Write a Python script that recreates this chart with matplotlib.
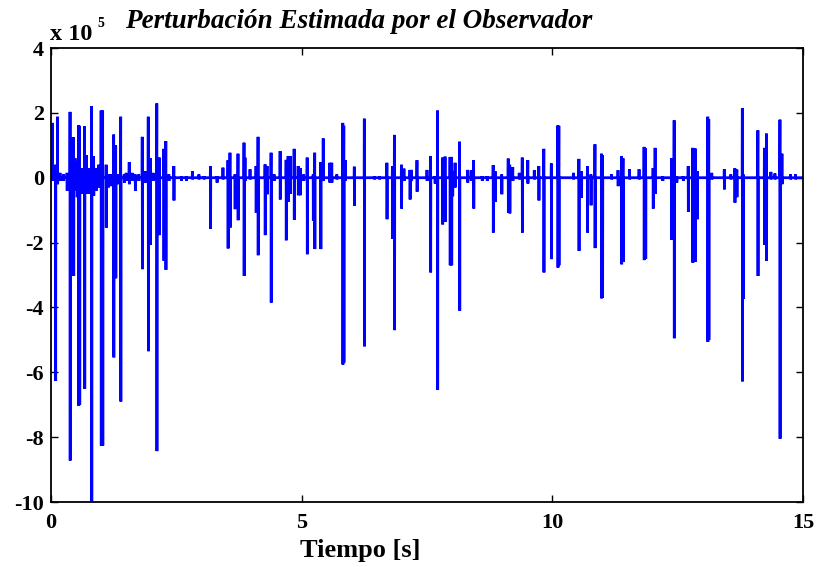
import matplotlib
matplotlib.use('Agg')
import matplotlib.pyplot as plt
import numpy as np

# estimated disturbance events: time [s], positive peak, negative peak (x 1e5)
spike_t = [0.03, 0.09, 0.13, 0.18, 0.25, 0.32, 0.38, 0.42, 0.45, 0.48, 0.52, 0.55, 0.57,
           0.63, 0.67, 0.71, 0.76, 0.81, 0.85, 0.90, 0.95, 1.00, 1.03, 1.10, 1.14, 1.19,
           1.25, 1.29, 1.34, 1.39, 1.46, 1.50, 1.56, 1.62, 1.68, 1.75, 1.82, 1.88, 1.94,
           1.98, 2.04, 2.11, 2.16, 2.25, 2.29, 2.35, 2.45, 2.60, 2.70, 2.82, 2.95, 3.05,
           3.18, 3.31, 3.43, 3.53, 3.57, 3.67, 3.73, 3.85, 3.87, 3.97, 4.09, 4.13, 4.27,
           4.31, 4.39, 4.45, 4.57, 4.69, 4.73, 4.77, 4.85, 4.93, 4.97, 5.04, 5.11, 5.23,
           5.26, 5.38, 5.43, 5.56, 5.60, 5.70, 5.82, 5.84, 5.87, 6.05, 6.25, 6.45, 6.55,
           6.70, 6.81, 6.85, 6.99, 7.04, 7.16, 7.19, 7.30, 7.50, 7.57, 7.66, 7.71, 7.81,
           7.86, 7.96, 7.99, 8.01, 8.06, 8.15, 8.31, 8.38, 8.43, 8.60, 8.70, 8.82, 8.86,
           8.99, 9.12, 9.15, 9.21, 9.34, 9.40, 9.51, 9.64, 9.73, 9.83, 9.98, 10.11, 10.13,
           10.42, 10.53, 10.58, 10.70, 10.77, 10.85, 10.98, 11.00, 11.18, 11.31, 11.38,
           11.41, 11.54, 11.73, 11.83, 11.86, 12.01, 12.05, 12.20, 12.38, 12.43, 12.48,
           12.61, 12.71, 12.80, 12.85, 12.89, 13.10, 13.12, 13.18, 13.43, 13.56, 13.64,
           13.68, 13.79, 13.81, 14.10, 14.23, 14.27, 14.36, 14.44, 14.54, 14.58, 14.75,
           14.85]
spike_hi = [1.69, 0.40, 1.88, 0.15, 0.10, 0.15, 2.03, 1.25, 1.25, 0.60, 0.50, 1.62, 1.60,
            0.30, 1.59, 0.69, 0.30, 2.20, 0.67, 0.30, 0.40, 2.07, 2.07, 0.40, 0.10, 0.10,
            1.33, 1.00, 0.10, 1.88, 0.10, 0.15, 0.48, 0.15, 0.10, 0.10, 1.26, 0.20, 1.88,
            0.60, 0.15, 2.29, 0.62, 0.89, 1.13, 0.10, 0.36, 0.05, 0.05, 0.20, 0.10, 0.05,
            0.36, 0.05, 0.31, 0.54, 0.77, 0.10, 0.74, 1.08, 0.62, 0.26, 0.36, 1.26, 0.41,
            0.36, 0.77, 0.10, 0.82, 0.55, 0.67, 0.67, 0.89, 0.36, 0.30, 0.10, 0.62, 0.10,
            0.77, 0.48, 1.21, 0.46, 0.46, 0.10, 1.69, 1.60, 0.54, 0.34, 1.82, 0.05, 0.05,
            0.46, 0.36, 1.32, 0.40, 0.28, 0.24, 0.24, 0.54, 0.24, 0.67, 0.05, 2.07, 0.62,
            0.65, 0.64, 0.64, 0.20, 0.46, 1.11, 0.24, 0.23, 0.54, 0.05, 0.05, 0.39, 0.20,
            0.10, 0.59, 0.40, 0.33, 0.15, 0.62, 0.54, 0.23, 0.36, 0.89, 0.44, 1.61, 1.60,
            0.15, 0.58, 0.20, 0.36, 0.10, 1.03, 0.74, 0.70, 0.10, 0.23, 0.67,
            0.60, 0.26, 0.26, 0.95, 0.90, 0.30, 0.92, 0.05, 0.60, 1.77, 0.05,
            0.05, 0.36, 0.92, 0.90, 0.20, 1.88, 1.80, 0.15, 0.26, 0.10, 0.29,
            0.25, 2.14, 0.10, 1.46, 0.92, 1.36, 0.18, 0.13, 1.79, 0.74, 0.10,
            0.10]
spike_lo = [-0.10, -6.26, -0.20, -0.10, -0.10, -0.40, -8.72, -3.03, -3.03, -0.40, -0.60, -7.03, -7.00,
            -0.50, -6.51, -0.50, -0.50, -10.5, -0.56, -0.40, -0.30, -8.26, -8.26, -1.54, -0.30, -0.26,
            -5.54, -3.10, -0.20, -6.90, -0.15, -0.10, -0.20, -0.10, -0.41, -0.10, -2.82, -0.15, -5.35,
            -2.07, -0.10, -8.43, -1.77, -2.56, -2.84, -0.10, -0.70, -0.10, -0.10, -0.05, -0.05, -0.05,
            -1.57, -0.15, -0.05, -2.18, -1.54, -0.97, -1.31, -3.03, -0.10, -0.05, -1.08, -2.39, -1.77,
            -0.51, -3.85, -0.10, -0.67, -1.93, -0.74, -0.50, -1.30, -0.54, -0.54, -0.10, -2.36, -1.33,
            -2.20, -2.20, -0.10, -0.15, -0.15, -0.05, -5.76, -5.70, -0.10, -0.87, -5.20, -0.05, -0.05,
            -1.28, -1.88, -4.70, -0.95, -0.10, -0.67, -0.10, -0.43, -0.10, -2.92, -0.18, -6.54, -1.44,
            -1.36, -2.70, -2.70, -0.57, -0.30, -4.10, -0.15, -0.10, -0.95, -0.10, -0.10, -1.69, -0.75,
            -0.51, -1.08, -1.10, -0.10, -0.05, -1.69, -0.18, -0.05, -0.70, -2.92, -2.51, -2.77, -2.70,
            -0.05, -2.26, -0.62, -1.69, -0.85, -2.17, -3.72, -3.70, -0.05, -0.26, -2.67,
            -2.60, -0.05, -0.05, -2.54, -2.50, -0.95, -0.50, -0.10, -1.92, -4.95, -0.15,
            -0.10, -1.05, -2.62, -2.60, -1.28, -5.06, -5.00, -0.05, -0.36, -0.05, -0.77,
            -0.60, -6.28, -3.74, -3.03, -2.07, -2.56, -0.05, -0.05, -8.05, -0.20, -0.05,
            -0.05]

x_ticks = [0, 5, 10, 15]
y_ticks = [-10, -8, -6, -4, -2, 0, 2, 4]


def build_trace(times, highs, lows, dt=0.003):
    t, v = [0.0], [0.0]
    for ti, hi, lo in zip(times, highs, lows):
        t += [ti - dt, ti, ti + dt, ti + 2 * dt]
        v += [0.0, hi, lo, 0.0]
    t.append(15.0)
    v.append(0.0)
    return np.array(t), np.array(v)


def main():
    plt.rcParams['font.family'] = ['Liberation Serif', 'DejaVu Serif']
    plt.rcParams['font.weight'] = 'bold'

    fig = plt.figure(figsize=(8.19, 5.67), dpi=100)
    ax = fig.add_axes([51 / 819, 1 - 502 / 567, 752 / 819, 454 / 567])

    t, v = build_trace(spike_t, spike_hi, spike_lo)
    ax.plot(t, v, color='#0000ff', linewidth=2.0,
            solid_capstyle='butt', solid_joinstyle='miter')

    ax.set_xlim(0, 15)
    ax.set_ylim(-10, 4)
    ax.set_xticks(x_ticks)
    ax.set_yticks(y_ticks)
    ax.set_xticklabels([str(x) for x in x_ticks], fontsize=16, fontweight='bold')
    ax.set_yticklabels([str(y) for y in y_ticks], fontsize=16, fontweight='bold')
    ax.tick_params(axis='both', direction='in', length=5, width=1, top=True, right=True)
    ax.tick_params(axis='x', pad=8)
    ax.tick_params(axis='y', pad=5)
    for spine in ax.spines.values():
        spine.set_linewidth(1.3)

    fig.text(360 / 819, 1 - 550 / 567, 'Tiempo [s]', fontsize=19, fontweight='bold',
             ha='center', va='center')
    fig.text(125 / 819, 1 - 28 / 567, 'Perturbación Estimada por el Observador',
             fontsize=19.5, fontweight='bold', style='italic', ha='left', va='baseline')
    fig.text(50 / 819, 1 - 40 / 567, 'x 10', fontsize=17.5, fontweight='bold',
             ha='left', va='baseline')
    fig.text(97 / 819, 1 - 27 / 567, '5', fontsize=10, fontweight='bold',
             ha='left', va='baseline')

    plt.savefig('out.png', dpi=100)


if __name__ == '__main__':
    main()
